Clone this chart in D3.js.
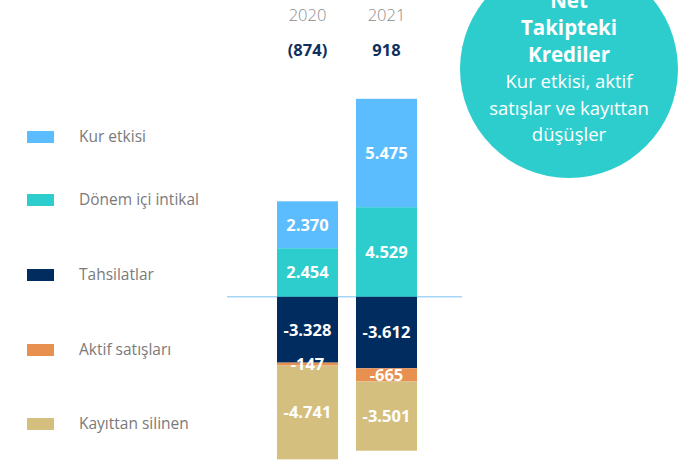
<!DOCTYPE html>
<html>
<head>
<meta charset="utf-8">
<script src="https://cdn.jsdelivr.net/npm/d3@7"></script>
<style>
  html, body { margin: 0; padding: 0; background: #fff; }
  svg { display: block; }
</style>
</head>
<body>
<svg id="chart" width="682" height="464"></svg>
<script>
// Years and net totals shown above each bar
const years = ["2020", "2021"];
const netTotals = ["(874)", "918"];

// Series, in stacking order (positives first, then negatives downward)
const seriesKeys = ["Dönem içi intikal", "Kur etkisi", "Tahsilatlar", "Aktif satışları", "Kayıttan silinen"];
const kurEtkisi = [2370, 5475];
const donemIciIntikal = [2454, 4529];
const tahsilatlar = [-3328, -3612];
const aktifSatislari = [-147, -665];
const kayittanSilinen = [-4741, -3501];

// Legend order
const legendKeys = ["Kur etkisi", "Dönem içi intikal", "Tahsilatlar", "Aktif satışları", "Kayıttan silinen"];

const colors = {
  "Kur etkisi": "#5bbcfe",
  "Dönem içi intikal": "#2ecdcd",
  "Tahsilatlar": "#002c5f",
  "Aktif satışları": "#e8904f",
  "Kayıttan silinen": "#d4bf7f"
};

const badgeTitle = ["Net", "Takipteki", "Krediler"];
const badgeSub = ["Kur etkisi, aktif", "satışlar ve kayıttan", "düşüşler"];

// Turkish-style number format: dot thousands separator, plain hyphen minus
const locale = d3.formatLocale({ decimal: ",", thousands: ".", grouping: [3], currency: ["", ""], minus: "-" });
const fmt = locale.format(",");

const rows = years.map((y, i) => ({
  year: y,
  "Kur etkisi": kurEtkisi[i],
  "Dönem içi intikal": donemIciIntikal[i],
  "Tahsilatlar": tahsilatlar[i],
  "Aktif satışları": aktifSatislari[i],
  "Kayıttan silinen": kayittanSilinen[i]
}));

const svg = d3.select("#chart");
const font = "'Open Sans', sans-serif";

const x = d3.scaleBand().domain(years).range([277, 417]).paddingInner(0.228).paddingOuter(0);
const y = d3.scaleLinear().domain([-8500, 10500]).range([465, 89]);

const stack = d3.stack().keys(seriesKeys).offset(d3.stackOffsetDiverging);
const layers = stack(rows);

// Zero baseline
svg.append("line")
  .attr("x1", 227).attr("x2", 462)
  .attr("y1", y(0)).attr("y2", y(0))
  .attr("stroke", "#a6d6f5").attr("stroke-width", 1.5);

// Bars
const g = svg.append("g");
layers.forEach(layer => {
  g.selectAll(null).data(layer).join("rect")
    .attr("x", d => x(d.data.year))
    .attr("width", x.bandwidth())
    .attr("y", d => y(d[1]))
    .attr("height", d => y(d[0]) - y(d[1]))
    .attr("fill", colors[layer.key]);
});

// Value labels
layers.forEach(layer => {
  g.selectAll(null).data(layer).join("text")
    .attr("x", d => x(d.data.year) + x.bandwidth() / 2)
    .attr("y", d => (y(d[0]) + y(d[1])) / 2)
    .attr("dy", "0.36em")
    .attr("text-anchor", "middle")
    .attr("font-family", font)
    .attr("font-weight", 700)
    .attr("font-size", 16.5)
    .attr("fill", "#ffffff")
    .text(d => fmt(d.data[layer.key]));
});

// Year headers and net totals
svg.selectAll(null).data(years).join("text")
  .attr("x", d => x(d) + x.bandwidth() / 2)
  .attr("y", 21)
  .attr("text-anchor", "middle")
  .attr("font-family", font)
  .attr("font-weight", 300)
  .attr("font-size", 16.5)
  .attr("fill", "#8a8a8a")
  .text(d => d);

svg.selectAll(null).data(netTotals).join("text")
  .attr("x", (d, i) => x(years[i]) + x.bandwidth() / 2)
  .attr("y", 56)
  .attr("text-anchor", "middle")
  .attr("font-family", font)
  .attr("font-weight", 700)
  .attr("font-size", 16.5)
  .attr("fill", "#0f2f5c")
  .text(d => d);

// Legend
const legend = svg.append("g");
const legendRowY = [137, 200, 275, 350, 424];
legendKeys.forEach((k, i) => {
  legend.append("rect")
    .attr("x", 27).attr("y", legendRowY[i] - 6)
    .attr("width", 27).attr("height", 12)
    .attr("fill", colors[k]);
  legend.append("text")
    .attr("x", 79).attr("y", legendRowY[i])
    .attr("dy", "0.35em")
    .attr("font-family", font)
    .attr("font-size", 15.5)
    .attr("fill", "#7a7a7a")
    .text(k);
});

// Badge circle
const badge = svg.append("g");
badge.append("circle")
  .attr("cx", 569).attr("cy", 69).attr("r", 109)
  .attr("fill", "#2ecdcd");
badgeTitle.forEach((t, i) => {
  badge.append("text")
    .attr("x", 569).attr("y", 8 + i * 27)
    .attr("text-anchor", "middle")
    .attr("font-family", font)
    .attr("font-weight", 700)
    .attr("font-size", 20.5)
    .attr("fill", "#ffffff")
    .text(t);
});
badgeSub.forEach((t, i) => {
  badge.append("text")
    .attr("x", 569).attr("y", 88 + i * 26.5)
    .attr("text-anchor", "middle")
    .attr("font-family", font)
    .attr("font-size", 18.5)
    .attr("fill", "#ffffff")
    .text(t);
});
</script>
</body>
</html>
